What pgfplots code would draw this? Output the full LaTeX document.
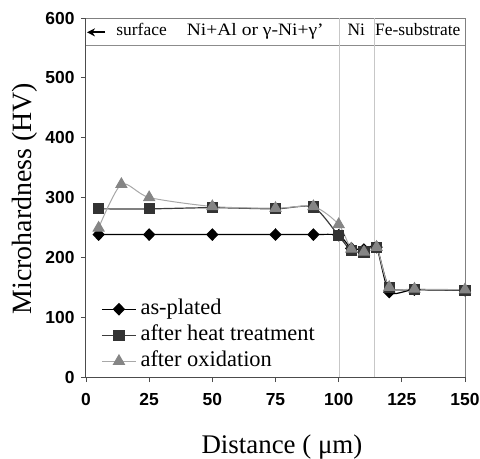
\documentclass[border=0pt]{standalone}
\usepackage{fontspec}
\setmainfont{Liberation Serif}
\setsansfont{Liberation Sans}
\usepackage{pgfplots}
\pgfplotsset{compat=1.18}
\usetikzlibrary{arrows.meta}

\definecolor{htline}{HTML}{3C3C3C}
\definecolor{htfill}{HTML}{333333}
\definecolor{oxline}{HTML}{A8A8A8}
\definecolor{oxfill}{HTML}{858585}

\begin{document}
\begin{tikzpicture}
\begin{axis}[
  scale only axis, width=379bp, height=359bp,
  xmin=0, xmax=150, ymin=0, ymax=600,
  xtick={0,25,...,150}, ytick={0,100,...,600},
  axis x line*=bottom, axis y line*=left,
  axis line style={black!70, line width=1bp},
  tick align=outside, major tick length=5bp,
  tick style={black!70, line width=0.8bp},
  /pgf/number format/assume math mode=true,
  ticklabel style={font=\fontsize{17.5}{17.5}\selectfont\sffamily\bfseries},
  xticklabel style={yshift=-8bp},
  yticklabel style={xshift=-3bp},
  xlabel={Distance ( μm)},
  ylabel={Microhardness (HV)},
  xlabel style={font=\fontsize{27}{27}\selectfont,
    at={(axis description cs:0.517,-0.2117)}, anchor=base},
  ylabel style={font=\fontsize{28}{28}\selectfont,
    at={(axis description cs:-0.1425,0.497)}, anchor=base},
  legend cell align=left,
  legend style={at={(axis description cs:0.04,0.22)}, anchor=north west,
    draw=none, fill=none, inner sep=0pt, row sep=4bp,
    font=\fontsize{22.5}{22.5}\selectfont,
    nodes={inner sep=1bp, text height=15bp, text depth=5bp},
    /tikz/every odd column/.append style={column sep=3bp}},
  legend image code/.code={\draw[mark repeat=2,mark phase=2,#1]
    plot coordinates {(0bp,0bp) (17bp,0bp) (34bp,0bp)};},
  clip=false,
]
% as-plated
\addplot[black, line width=1.2bp, smooth, tension=0.4, mark=diamond*,
  mark size=5.5bp, mark options={xscale=1.3, solid, fill=black}]
  coordinates {(5,238) (25,238) (50,238) (75,238) (90,238) (100,237)
  (105,215) (110,213) (115,217) (120,142) (130,146) (150,145)};
\addlegendentry{as-plated}
% after heat treatment
\addplot[htline, line width=1.2bp, smooth, tension=0.4, mark=square*,
  mark size=5bp, mark options={solid, fill=htfill, draw=htfill}]
  coordinates {(5,281) (25,281) (50,283) (75,281) (90,284) (100,236)
  (105,211) (110,209) (115,217) (120,150) (130,146) (150,145)};
\addlegendentry{after heat treatment}
% after oxidation
\addplot[oxline, line width=1bp, smooth, tension=0.45, mark=triangle*,
  mark size=6.3bp, mark options={solid, fill=oxfill, draw=oxfill}]
  coordinates {(5,249) (14,322) (25,300) (50,285) (75,282) (90,285)
  (100,255) (105,214) (110,209) (115,217) (120,150) (130,147) (150,146)};
\addlegendentry{after oxidation}

% frame and region separators
\draw[black!50, line width=1bp] (axis cs:0,600) -- (axis cs:150,600) -- (axis cs:150,0);
\draw[black!45, line width=1bp] (axis cs:0,554) -- (axis cs:150,554);
\draw[black!22, line width=1bp] (axis cs:100.3,0) -- (axis cs:100.3,600);
\draw[black!22, line width=1bp] (axis cs:114,0) -- (axis cs:114,600);
\draw[black, line width=1.8bp, -{Stealth[length=8bp,width=8bp]}] (axis cs:7.6,576) -- (axis cs:0.4,576);
\begin{scope}[font=\fontsize{17.5}{17.5}\selectfont]
\node[anchor=base] at (axis cs:22,570) {surface};
\node[anchor=base] at (axis cs:67,570) {\scalebox{1.12}[1]{Ni+Al or γ-Ni+γ'}};
\node[anchor=base] at (axis cs:107,570) {Ni};
\node[anchor=base] at (axis cs:131.3,570) {Fe-substrate};
\end{scope}
\end{axis}
\pgfresetboundingbox
\path[use as bounding box] (-86bp,-82bp) rectangle (394bp,377bp);
\end{tikzpicture}
\end{document}
